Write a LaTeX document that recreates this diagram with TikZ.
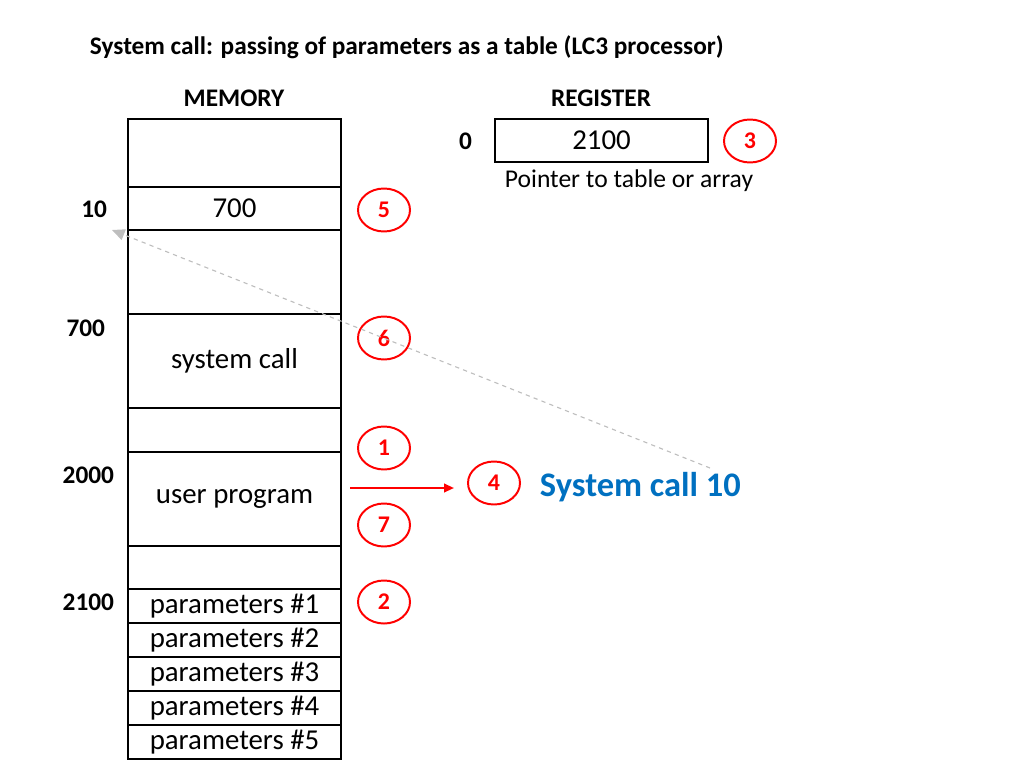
\documentclass[tikz,border=0pt]{standalone}
\usepackage{fontspec}
\setmainfont{Carlito}
\usetikzlibrary{arrows.meta,shapes.geometric}
\definecolor{callblue}{RGB}{0,112,192}
\definecolor{pathgray}{RGB}{190,190,190}

\begin{document}
\begin{tikzpicture}[x=0.025cm, y=-0.025cm,
  cell/.style={draw, line width=1.8pt, minimum width=5.325cm, inner sep=0pt, font=\fontsize{20.5}{22}\selectfont},
  addr/.style={anchor=east, font=\bfseries\fontsize{18}{20}\selectfont},
  head/.style={font=\bfseries\fontsize{18}{20}\selectfont},
  stepno/.style={draw=red, text=red, ellipse, line width=1.4pt, minimum width=1.3cm, minimum height=1.075cm, inner sep=0pt, font=\bfseries\fontsize{17}{19}\selectfont}]
  \useasboundingbox (0,0) rectangle (1024,768);

  \node[head, anchor=west] (title) at (85,47) {System call: passing of parameters as a table (LC3 processor)};
  \node[head] (memhead) at (234,98) {MEMORY};
  \node[head] (reghead) at (601,98) {REGISTER};

  % memory cells
  \node[cell, minimum height=1.7cm] (m0) at (234.5,153) {};
  \node[cell, minimum height=1.075cm] (m10) at (234.5,208.5) {700};
  \node[cell, minimum height=2.1cm] (m1) at (234.5,272) {};
  \node[cell, minimum height=2.35cm] (msys) at (234.5,361) {system call};
  \node[cell, minimum height=1.1cm] (m2) at (234.5,430) {};
  \node[cell, minimum height=2.35cm] (muser) at (234.5,499) {user program};
  \node[cell, minimum height=1.075cm] (m3) at (234.5,567.5) {};
  \node[cell, minimum height=0.85cm] (p1) at (234.5,606) {parameters \#1};
  \node[cell, minimum height=0.85cm] (p2) at (234.5,640) {parameters \#2};
  \node[cell, minimum height=0.85cm] (p3) at (234.5,674) {parameters \#3};
  \node[cell, minimum height=0.85cm] (p4) at (234.5,708) {parameters \#4};
  \node[cell, minimum height=0.85cm] (p5) at (234.5,742) {parameters \#5};

  % addresses
  \node[addr] (a10) at (112,209) {10};
  \node[addr] (a700) at (110,328) {700};
  \node[addr] (a2000) at (119,475) {2000};
  \node[addr] (a2100) at (119,602) {2100};

  % register
  \node[cell, minimum height=1.075cm] (r0) at (601.5,140.5) {2100};
  \node[addr] (a0) at (477,141) {0};
  \node[font=\fontsize{18.2}{20}\selectfont] (ptr) at (629,181) {Pointer to table or array};

  % steps
  \node[stepno] (s3) at (750,141) {3};
  \node[stepno] (s5) at (384,210) {5};
  \node[stepno] (s6) at (384,338) {6};
  \node[stepno] (s1) at (384,448) {1};
  \node[stepno] (s7) at (384,525) {7};
  \node[stepno] (s2) at (384,602) {2};
  \node[stepno] (s4) at (494,483) {4};

  \node[anchor=west, text=callblue, font=\bfseries\fontsize{24.5}{26}\selectfont] (call) at (535,487) {System call 10};

  \coordinate (trapfrom) at (350,488);
  \coordinate (trapto) at (454,488);
  \draw[red, line width=1.5pt, -{Triangle[length=7pt,width=6pt]}] (trapfrom) -- (trapto);

  \coordinate (vecfrom) at (710,468);
  \coordinate (vecto) at (112,230);
  \draw[pathgray, line width=0.8pt, dashed, -{Triangle[length=9pt,width=8pt]}] (vecfrom) -- (vecto);
\end{tikzpicture}
\end{document}
